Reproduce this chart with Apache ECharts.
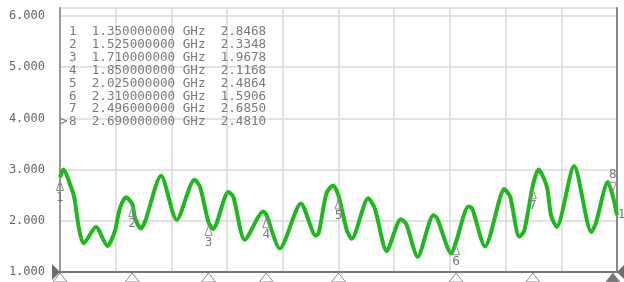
<!DOCTYPE html>
<html>
<head>
<meta charset="utf-8">
<script src="https://cdn.jsdelivr.net/npm/echarts@6/dist/echarts.min.js"></script>
<style>
  html, body { margin: 0; padding: 0; background: #fff; }
  #chart { width: 624px; height: 282px; }
</style>
</head>
<body>
<div id="chart"></div>
<script>
// trace, frequency in GHz
const freqGHz = [
  1.350, 1.358, 1.378, 1.385, 1.396, 1.407, 1.437, 1.465, 1.483, 1.495,
  1.510, 1.525, 1.532, 1.546, 1.556, 1.595, 1.633, 1.676, 1.689, 1.710,
  1.721, 1.758, 1.770, 1.798, 1.843, 1.850, 1.883, 1.934, 1.970, 1.977,
  1.996, 2.012, 2.025, 2.045, 2.057, 2.097, 2.113, 2.142, 2.176, 2.189,
  2.217, 2.255, 2.264, 2.299, 2.310, 2.340, 2.349, 2.380, 2.417, 2.426,
  2.441, 2.463, 2.475, 2.496, 2.510, 2.530, 2.540, 2.554, 2.596, 2.638,
  2.649, 2.678, 2.690, 2.700
];
const vswr = [
  2.85, 3.00, 2.63, 2.44, 1.85, 1.56, 1.88, 1.51, 1.80, 2.24,
  2.46, 2.33, 2.05, 1.85, 1.98, 2.88, 2.02, 2.80, 2.67, 1.97,
  1.84, 2.56, 2.47, 1.63, 2.18, 2.12, 1.46, 2.34, 1.71, 1.76,
  2.54, 2.69, 2.49, 1.82, 1.65, 2.44, 2.24, 1.41, 2.03, 1.94,
  1.30, 2.11, 2.05, 1.36, 1.59, 2.28, 2.24, 1.50, 2.46, 2.62,
  2.47, 1.69, 1.80, 2.69, 3.00, 2.67, 2.11, 1.88, 3.07, 1.78,
  1.96, 2.76, 2.48, 2.11
];

// marker table
const markerIds = [1, 2, 3, 4, 5, 6, 7, 8];
const markerFreqs = [1.35, 1.525, 1.71, 1.85, 2.025, 2.31, 2.496, 2.69];
const markerValues = [2.8468, 2.3348, 1.9678, 2.1168, 2.4864, 1.5906, 2.6850, 2.4810];
const activeMarker = 8;

// axes
const xMin = 1.35, xMax = 2.70, xStep = 0.135;
const yMin = 1, yMax = 6.156, yStep = 1;

const grey = '#8c8c8c';
const textGrey = '#7a7a7a';

const chart = echarts.init(document.getElementById('chart'), null, { renderer: 'canvas' });

function renderMarker(params, api) {
  const f = api.value(0), v = api.value(1), id = api.value(2);
  const p = api.coord([f, v]);
  const b = api.coord([f, yMin]);
  const active = id === activeMarker;
  const kids = [];
  if (active) {
    kids.push({ type: 'polygon', shape: { points: [[p[0], p[1] - 5], [p[0] - 3.5, p[1] - 14], [p[0] + 3.5, p[1] - 14]] },
      style: { fill: 'none', stroke: grey, lineWidth: 1 } });
    kids.push({ type: 'text', style: { text: String(id), x: p[0], y: p[1] - 21, align: 'center', verticalAlign: 'middle',
      fill: textGrey, fontSize: 12, fontFamily: 'DejaVu Sans' } });
  } else {
    kids.push({ type: 'polygon', shape: { points: [[p[0], p[1] + 3], [p[0] - 3.5, p[1] + 13], [p[0] + 3.5, p[1] + 13]] },
      style: { fill: 'none', stroke: grey, lineWidth: 1 } });
    kids.push({ type: 'text', style: { text: String(id), x: p[0], y: p[1] + 20, align: 'center', verticalAlign: 'middle',
      fill: textGrey, fontSize: 12, fontFamily: 'DejaVu Sans' } });
  }
  kids.push({ type: 'polygon', shape: { points: [[b[0], b[1] + 1], [b[0] - 7, b[1] + 10], [b[0] + 7, b[1] + 10]] },
    style: { fill: active ? '#777' : '#fff', stroke: grey, lineWidth: 1 } });
  return { type: 'group', children: kids };
}

function renderRef(params, api) {
  const p = api.coord([api.value(0), api.value(1)]);
  const d = api.value(2);
  return { type: 'polygon', shape: { points: [[p[0], p[1]], [p[0] + 8 * d, p[1] - 8], [p[0] + 8 * d, p[1] + 8]] },
    style: { fill: '#6e6e6e' } };
}

const tableFont = { fontFamily: 'DejaVu Sans Mono', fontSize: 12.6, fill: textGrey, verticalAlign: 'middle' };
const tableRows = [];
markerIds.forEach(function (id, i) {
  const y = 32 + i * 12.86;
  if (id === activeMarker) {
    tableRows.push({ type: 'text', x: 60, y: y, z: 10, style: Object.assign({ text: '>' }, tableFont) });
  }
  tableRows.push({
    type: 'text', x: 69, y: y, z: 10,
    style: Object.assign({
      text: id + '  ' + markerFreqs[i].toFixed(9) + ' GHz  ' + markerValues[i].toFixed(4)
    }, tableFont)
  });
});

const option = {
  animation: false,
  grid: { left: 60, right: 7, top: 8, bottom: 10 },
  xAxis: {
    type: 'value',
    min: xMin, max: xMax, interval: xStep,
    axisLine: { show: true, lineStyle: { color: '#777', width: 2 } },
    axisTick: { show: false },
    axisLabel: { show: false },
    splitLine: { show: true, lineStyle: { color: '#d9d9d9', width: 1.5 } }
  },
  yAxis: [{
    type: 'value',
    min: yMin, max: yMax, interval: yStep,
    axisLine: { show: true, lineStyle: { color: '#999', width: 2 } },
    axisTick: { show: false },
    axisLabel: {
      margin: 15, color: '#666', fontSize: 12, fontFamily: 'DejaVu Sans Mono',
      formatter: function (v) { return v.toFixed(3); }
    },
    splitLine: { show: true, lineStyle: { color: '#d9d9d9', width: 1.5 } }
  }, {
    type: 'value', position: 'right',
    min: yMin, max: yMax, interval: yStep,
    axisLine: { show: true, lineStyle: { color: '#888', width: 2 } },
    axisTick: { show: false }, axisLabel: { show: false }, splitLine: { show: false }
  }],
  graphic: tableRows,
  series: [{
    type: 'line',
    data: freqGHz.map(function (f, i) { return [f, vswr[i]]; }),
    showSymbol: false,
    smooth: 0.25,
    lineStyle: { color: '#1fb81f', width: 4 },
    endLabel: { show: true, formatter: '1', color: textGrey, fontSize: 12, fontFamily: 'DejaVu Sans', distance: 1 },
    z: 3
  }, {
    type: 'custom',
    renderItem: renderMarker,
    clip: false,
    data: markerFreqs.map(function (f, i) { return [f, markerValues[i], markerIds[i]]; }),
    encode: { x: 0, y: 1 },
    z: 5
  }, {
    type: 'custom',
    renderItem: renderRef,
    clip: false,
    data: [[xMin, yMin, -1], [xMax, yMin, 1]],
    encode: { x: 0, y: 1 },
    z: 6
  }]
};

chart.setOption(option);
</script>
</body>
</html>
